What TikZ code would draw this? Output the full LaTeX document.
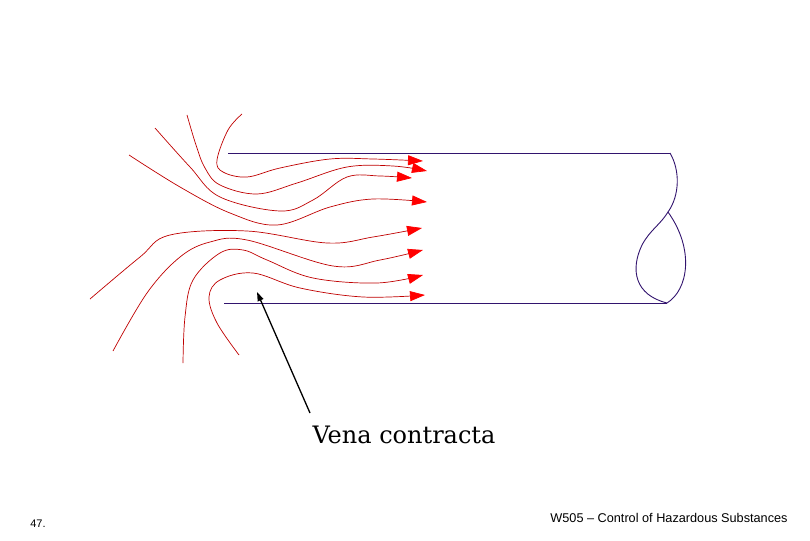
\documentclass[tikz,border=0pt]{standalone}
\usepackage{fontspec}
\setsansfont{Liberation Sans}
\newfontfamily\labfont{DejaVu Serif}
\usetikzlibrary{arrows.meta}
\definecolor{pipec}{RGB}{50,20,110}
\begin{document}
\begin{tikzpicture}[x=1pt,y=-1pt,
  stream/.style={draw=red!75!black,line width=0.7pt,-{Triangle[length=15pt,width=10pt,fill=red,color=red]}},
  pipe/.style={draw=pipec,line width=0.9pt},
  pointer/.style={draw=black,line width=1.3pt,-{Triangle[length=9pt,width=6pt]}}]
\useasboundingbox (0,0) rectangle (810,540);
\draw[stream] plot[smooth,tension=0.6] coordinates {(242,114) (228,130) (217,160) (223,172) (247,177) (280,168) (330,159) (373,159) (423,161)};
\draw[stream] plot[smooth,tension=0.6] coordinates {(187,115) (196,145) (205,168) (220,185) (257,194) (297,183) (347,167) (393,166) (427,171)};
\draw[stream] plot[smooth,tension=0.6] coordinates {(155,128) (190,167) (220,197) (280,211) (313,200) (347,177) (380,176) (412,178)};
\draw[stream] plot[smooth,tension=0.6] coordinates {(129,155) (180,187) (230,213) (277,225) (330,207) (373,199) (427,202)};
\draw[stream] plot[smooth,tension=0.6] coordinates {(90,299) (140,257) (170,235) (247,231) (327,243) (373,237) (422,228)};
\draw[stream] plot[smooth,tension=0.6] coordinates {(113,351) (147,293) (180,257) (210,242) (247,240) (333,266) (380,260) (423,250)};
\draw[stream] plot[smooth,tension=0.6] coordinates {(183,363) (185,317) (193,280) (220,253) (243,250) (267,260) (313,278) (377,283) (423,275)};
\draw[stream] plot[smooth,tension=0.6] coordinates {(239,355) (217,323) (209,297) (220,280) (253,273) (300,288) (363,297) (425,295)};
\coordinate (tl) at (228,153); \coordinate (tr) at (670,153);
\coordinate (bl) at (224,303); \coordinate (br) at (667,303);
\coordinate (mid) at (668,212);
\draw[pipe] (tl) -- (tr);
\draw[pipe] (bl) -- (br);
\draw[pipe] (tr) .. controls (680,170) and (680,195) .. (mid);
\draw[pipe] (mid) .. controls (660,225) and (650,230) .. (642,245) .. controls (630,270) and (635,295) .. (br);
\draw[pipe] (mid) .. controls (695,250) and (688,290) .. (br);
\node[font=\labfont\fontsize{24}{28}\selectfont] (lab) at (404,435) {Vena contracta};
\coordinate (tip) at (257,292);
\draw[pointer] (310,413) -- (tip);
\node[font=\sffamily\fontsize{11}{13}\selectfont] (num) at (38,524) {47.};
\node[font=\sffamily\fontsize{12.7}{14}\selectfont] (foot) at (669,518) {W505 – Control of Hazardous Substances};
\end{tikzpicture}
\end{document}
